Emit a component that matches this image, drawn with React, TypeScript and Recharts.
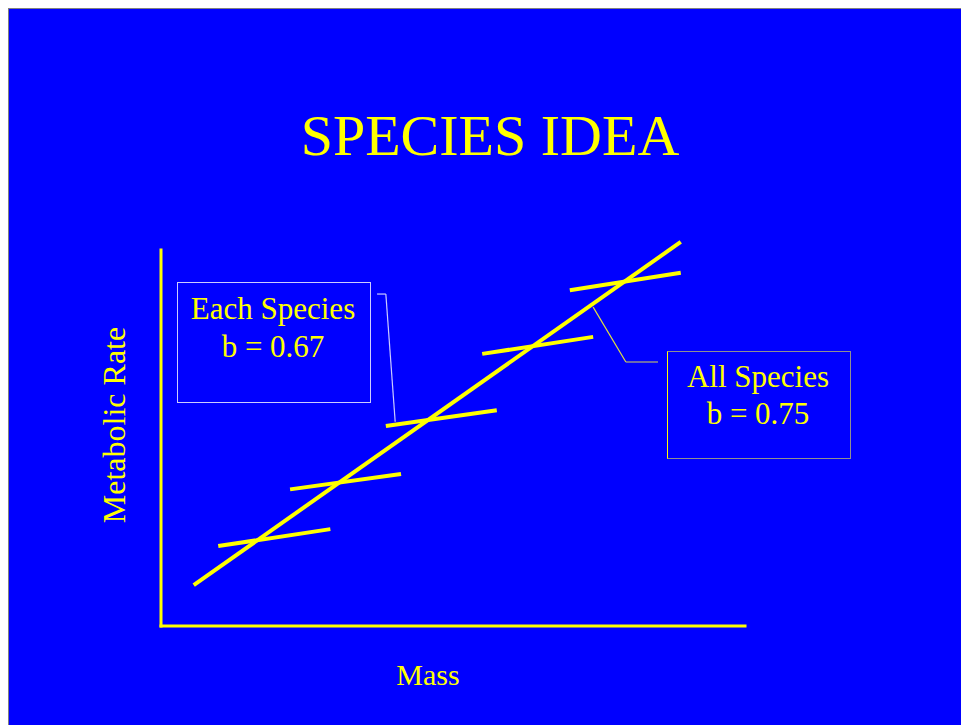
import React from 'react';
import { LineChart, Line, XAxis, YAxis, ReferenceLine } from 'recharts';

// all-species regression line (mass, metabolic rate in arbitrary log units)
const allMass = [5.6, 89.0];
const allRate = [10.6, 99.5];

// one short line per species
const speciesMassStart = [9.8, 22.1, 38.5, 55.0, 70.0];
const speciesMassEnd = [29.0, 41.1, 57.5, 74.0, 89.0];
const speciesRateStart = [20.7, 35.4, 51.8, 70.5, 87.0];
const speciesRateEnd = [25.1, 39.4, 55.9, 74.9, 91.5];

const titleText = 'SPECIES IDEA';
const xLabel = 'Mass';
const yLabel = 'Metabolic Rate';
const eachLabel = ['Each Species', 'b = 0.67'];
const allLabel = ['All Species', 'b = 0.75'];

const BLUE = '#0000FF';
const YELLOW = '#FFFF00';
const FONT = '"Liberation Serif", "Times New Roman", serif';

const allData = allMass.map((x, i) => ({ x, y: allRate[i] }));
const speciesData = speciesMassStart.map((x, i) => [
  { x, y: speciesRateStart[i] },
  { x: speciesMassEnd[i], y: speciesRateEnd[i] },
]);

export default function App() {
  return (
    <div
      style={{
        position: 'absolute',
        left: 8,
        top: 8,
        width: 953,
        height: 717,
        background: BLUE,
        overflow: 'hidden',
      }}
    >
      <LineChart
        width={953}
        height={717}
        margin={{ top: 232, right: 216, bottom: 99, left: 153 }}
        style={{ position: 'absolute', left: 0, top: 0 }}
      >
        <XAxis type="number" dataKey="x" domain={[0, 100]} hide />
        <YAxis type="number" dataKey="y" domain={[0, 100]} hide />
        {/* axes */}
        <ReferenceLine
          segment={[{ x: 0, y: 0 }, { x: 100, y: 0 }]}
          stroke={YELLOW}
          strokeWidth={3}
          strokeLinecap="square"
          ifOverflow="visible"
        />
        <ReferenceLine
          segment={[{ x: 0, y: 0 }, { x: 0, y: 97.4 }]}
          stroke={YELLOW}
          strokeWidth={3}
          strokeLinecap="square"
          ifOverflow="visible"
        />
        {/* connector lines from the boxes */}
        <ReferenceLine segment={[{ x: 37.0, y: 86.0 }, { x: 38.5, y: 86.0 }]} stroke="#ccccff" strokeWidth={1.2} ifOverflow="visible" />
        <ReferenceLine segment={[{ x: 38.5, y: 86.0 }, { x: 40.1, y: 52.9 }]} stroke="#ccccff" strokeWidth={1.2} ifOverflow="visible" />
        <ReferenceLine segment={[{ x: 74.0, y: 82.6 }, { x: 79.6, y: 68.4 }]} stroke="#e0e040" strokeWidth={1.2} ifOverflow="visible" />
        <ReferenceLine segment={[{ x: 79.6, y: 68.4 }, { x: 85.1, y: 68.4 }]} stroke="#909090" strokeWidth={1.5} ifOverflow="visible" />
        {speciesData.map((d, i) => (
          <Line
            key={`sp-${i}`}
            data={d}
            dataKey="y"
            type="linear"
            stroke={YELLOW}
            strokeWidth={4}
            dot={false}
            isAnimationActive={false}
          />
        ))}
        <Line
          data={allData}
          dataKey="y"
          type="linear"
          stroke={YELLOW}
          strokeWidth={4}
          dot={false}
          isAnimationActive={false}
        />
      </LineChart>
      <svg
        width={953}
        height={717}
        style={{ position: 'absolute', left: 0, top: 0, pointerEvents: 'none' }}
        fontFamily={FONT}
        fill={YELLOW}
      >
        <line x1={0.5} y1={0} x2={0.5} y2={717} stroke="#808080" />
        <line x1={0} y1={0.5} x2={953} y2={0.5} stroke="#808080" />
        <text x={482} y={147} fontSize={58} textAnchor="middle">{titleText}</text>
        <text x={420} y={677} fontSize={30} textAnchor="middle">{xLabel}</text>
        <text x={117} y={417} fontSize={32} textAnchor="middle" transform="rotate(-90 117 417)">{yLabel}</text>

        <rect x={169.5} y={274.5} width={193} height={120} fill="none" stroke="#ccccff" />
        <text x={265} y={311} fontSize={31} textAnchor="middle">{eachLabel[0]}</text>
        <text x={265} y={349} fontSize={31} textAnchor="middle">{eachLabel[1]}</text>

        <rect x={659.5} y={343.5} width={183} height={107} fill="none" stroke="#909090" />
        <line x1={659.5} y1={343.5} x2={659.5} y2={450.5} stroke={YELLOW} />
        <text x={750} y={379} fontSize={31} textAnchor="middle">{allLabel[0]}</text>
        <text x={750} y={416} fontSize={31} textAnchor="middle">{allLabel[1]}</text>
      </svg>
    </div>
  );
}
